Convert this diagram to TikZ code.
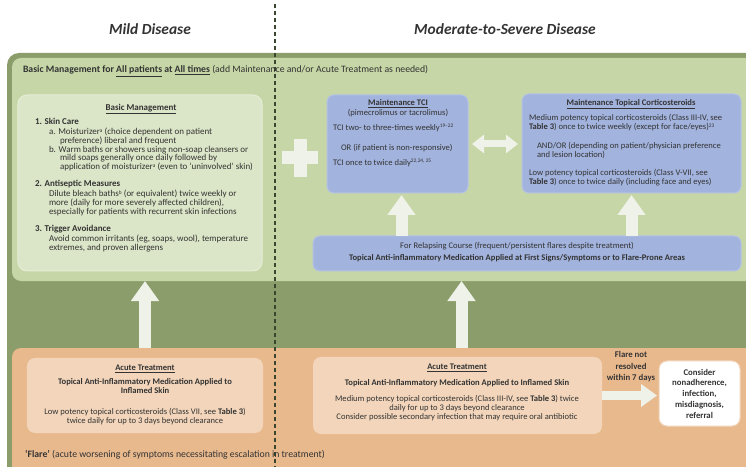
\documentclass[tikz,border=0pt]{standalone}
\usepackage{fontspec}
\setmainfont{Carlito}
\usetikzlibrary{calc}
\usetikzlibrary{arrows.meta}

\definecolor{framegreen}{HTML}{8B9D6B}
\definecolor{panelgreen}{HTML}{C6D6A6}
\definecolor{boxgreen}{HTML}{DBE5C7}
\definecolor{boxgreenline}{HTML}{E6EDD9}
\definecolor{boxblue}{HTML}{A2B3DD}
\definecolor{boxblueline}{HTML}{B4C2E5}
\definecolor{panelorange}{HTML}{E9B98E}
\definecolor{boxorange}{HTML}{F2D5BA}
\definecolor{arrowwhite}{HTML}{EFF2E8}
\definecolor{textgray}{HTML}{333333}
\definecolor{dashgray}{HTML}{3A4630}

\newcommand{\bodyfont}{\fontsize{9}{8.8}\selectfont\lineskiplimit=-20pt}
\newcommand{\boxfont}{\fontsize{8.6}{9.2}\selectfont\lineskiplimit=-20pt}
\newcommand{\headfont}{\fontsize{9.8}{11}\selectfont}
\newcommand{\titlefont}{\fontsize{15.5}{18}\selectfont\bfseries\itshape}
\newcommand{\sups}[1]{\smash{\raisebox{2.4bp}{\fontsize{5.4}{6}\selectfont #1}}}

\begin{document}
\begin{tikzpicture}[x=1bp, y=-1bp,
    every node/.style={inner sep=0pt, outer sep=0pt, text=textgray},
    panel/.style={rectangle, anchor=north west, rounded corners=9bp},
    greenbox/.style={rectangle, rounded corners=9bp, fill=boxgreen, draw=boxgreenline, line width=1bp},
    bluebox/.style={rectangle, rounded corners=7bp, fill=boxblue, draw=boxblueline, line width=1bp},
    orangebox/.style={rectangle, rounded corners=8bp, fill=boxorange},
    whitebox/.style={rectangle, rounded corners=8bp, fill=white, draw=boxorange, line width=1bp},
    uparrow/.style={draw=arrowwhite, line width=12bp, -{Triangle[length=20bp,width=27bp]}},
    sidearrow/.style={draw=arrowwhite, line width=9bp, -{Triangle[length=16bp,width=22bp]}},
    botharrow/.style={draw=arrowwhite, line width=7bp, {Triangle[length=12bp,width=18bp]}-{Triangle[length=12bp,width=18bp]}},
    divider/.style={draw=dashgray, line width=1.6bp, dash pattern=on 4bp off 3bp}]

    \clip (0,0) rectangle (746,467);

    % headings
    \node[font=\titlefont] at (150,29) (mild) {Mild Disease};
    \node[font=\titlefont] at (505,29) (modsev) {Moderate-to-Severe Disease};

    % background panels
    \node[panel, rounded corners=12bp, fill=framegreen, minimum width=790bp, minimum height=450bp] at (7,53) (frame) {};
    \node[panel, fill=panelgreen, minimum width=780bp, minimum height=223bp] at (12,58) (basicpanel) {};
    \node[panel, fill=panelorange, minimum width=780bp, minimum height=140bp] at (12,348) (flarepanel) {};

    \draw[divider] (275,4) -- (275,467);

    \node[font=\headfont, anchor=west] at (23,71) (allpatients) {\textbf{Basic Management for \underline{All patients} at \underline{All times}} (add Maintenance and/or Acute Treatment as needed)};

    % basic management
    \node[greenbox, minimum width=244bp, minimum height=176bp] at (140,183) (bm) {};
    \node[font=\bodyfont\bfseries] at (141,109) (bmtitle) {\underline{Basic Management}};
    \node[font=\bodyfont, align=left, anchor=north west] at (35,118.5) (skincare) {\textbf{1. Skin Care}\\[1bp]
        \hspace*{14bp}a. Moisturizer\sups{a} (choice dependent on patient\\
        \hspace*{25bp}preference) liberal and frequent\\
        \hspace*{14bp}b. Warm baths or showers using non-soap cleansers or\\
        \hspace*{25bp}mild soaps generally once daily followed by\\
        \hspace*{25bp}application of moisturizer\sups{a} (even to `uninvolved' skin)};
    \node[font=\bodyfont, align=left, anchor=north west] at (35,180.5) (antiseptic) {\textbf{2. Antiseptic Measures}\\[1bp]
        \hspace*{14bp}Dilute bleach baths\sups{b} (or equivalent) twice weekly or\\
        \hspace*{14bp}more (daily for more severely affected children),\\
        \hspace*{14bp}especially for patients with recurrent skin infections};
    \node[font=\bodyfont, align=left, anchor=north west] at (35,225.5) (trigger) {\textbf{3. Trigger Avoidance}\\[1bp]
        \hspace*{14bp}Avoid common irritants (eg, soaps, wool), temperature\\
        \hspace*{14bp}extremes, and proven allergens};

    % plus sign
    \coordinate (plus) at (300,158);
    \fill[arrowwhite] ($(plus)+(-18,-6.5)$) rectangle ($(plus)+(18,6.5)$);
    \fill[arrowwhite] ($(plus)+(-6.5,-19)$) rectangle ($(plus)+(6.5,19)$);

    % maintenance TCI
    \node[bluebox, minimum width=141bp, minimum height=98bp] at (397.5,144) (tci) {};
    \node[font=\boxfont\bfseries] at (398,104) (tcititle) {\underline{Maintenance TCI}};
    \node[font=\boxfont] at (398,113) (tcidrug) {(pimecrolimus or tacrolimus)};
    \node[font=\boxfont, anchor=west] at (333,128) (tciweekly) {TCI two- to three-times weekly\sups{19--22}};
    \node[font=\boxfont, anchor=west] at (341,148) (tcior) {OR (if patient is non-responsive)};
    \node[font=\boxfont, anchor=west] at (333,163) (tcidaily) {TCI once to twice daily\sups{22,24, 25}};

    % maintenance corticosteroids
    \node[bluebox, minimum width=219bp, minimum height=99bp] at (631.5,143.5) (cort) {};
    \node[font=\boxfont\bfseries] at (631,104) (corttitle) {\underline{Maintenance Topical Corticosteroids}};
    \node[font=\boxfont, align=left, anchor=north west] at (529,114.5) (cortmed) {Medium potency topical corticosteroids (Class III-IV, see\\
        \textbf{Table 3}) once to twice weekly (except for face/eyes)\sups{23}};
    \node[font=\boxfont, align=left, anchor=north west] at (537,142.5) (cortandor) {AND/OR (depending on patient/physician preference\\
        and lesion location)};
    \node[font=\boxfont, align=left, anchor=north west] at (529,169.5) (cortlow) {Low potency topical corticosteroids (Class V-VII, see\\
        \textbf{Table 3}) once to twice daily (including face and eyes)};

    % relapsing course
    \node[bluebox, minimum width=428bp, minimum height=35bp] at (527,253.5) (relapse) {};
    \node[font=\boxfont] at (517,246) (relapsecourse) {For Relapsing Course (frequent/persistent flares despite treatment)};
    \node[font=\boxfont\bfseries] at (517,258) (relapsemed) {Topical Anti-inflammatory Medication Applied at First Signs/Symptoms or to Flare-Prone Areas};

    % acute treatment, mild
    \node[orangebox, minimum width=236bp, minimum height=75bp] at (145,395.5) (acutemild) {};
    \node[font=\boxfont\bfseries] at (145,369) (acmtitle) {\underline{Acute Treatment}};
    \node[font=\boxfont\bfseries, align=center, anchor=north] at (145,378.5) (acmmed) {Topical Anti-Inflammatory Medication Applied to\\Inflamed Skin};
    \node[font=\boxfont, align=center, anchor=north] at (145,408) (acmlow) {Low potency topical corticosteroids (Class VII, see \textbf{Table 3})\\twice daily for up to 3 days beyond clearance};

    % acute treatment, moderate-to-severe
    \node[orangebox, minimum width=289bp, minimum height=77bp] at (457.5,395.5) (acutemod) {};
    \node[font=\boxfont\bfseries] at (457,368) (acdtitle) {\underline{Acute Treatment}};
    \node[font=\boxfont\bfseries] at (457,383) (acdmed) {Topical Anti-Inflammatory Medication Applied to Inflamed Skin};
    \node[font=\boxfont, align=center, anchor=north] at (457,395) (acdmedium) {Medium potency topical corticosteroids (Class III-IV, see \textbf{Table 3}) twice\\daily for up to 3 days beyond clearance};
    \node[font=\boxfont] at (457,417) (acdinfect) {Consider possible secondary infection that may require oral antibiotic};

    % not resolved
    \node[whitebox, minimum width=81bp, minimum height=65bp] at (699.5,393.5) (consider) {};
    \node[font=\fontsize{8.8}{10.8}\selectfont\bfseries, align=center] at (699.5,393.5) (considertext) {Consider\\nonadherence,\\infection,\\misdiagnosis,\\referral};
    \node[font=\fontsize{8.8}{11.5}\selectfont\bfseries, align=center, anchor=north] at (631,351.5) (flarenote) {Flare not\\resolved\\within 7 days};

    \node[font=\headfont, anchor=west] at (25,455) (flaredef) {\textbf{`Flare'} (acute worsening of symptoms necessitating escalation in treatment)};

    % arrows
    \draw[uparrow] (acutemild.north |- flarepanel.north) -- (acutemild.north |- basicpanel.south);
    \draw[uparrow] ([xshift=4bp]acutemod.north |- flarepanel.north) -- ([xshift=4bp]acutemod.north |- basicpanel.south);
    \draw[uparrow, shorten >=2bp] ([xshift=4bp]tci.south |- relapse.north) -- ([xshift=4bp]tci.south);
    \draw[uparrow, shorten >=2bp] (cort.south |- relapse.north) -- (cort.south);
    \draw[botharrow, shorten <=4bp, shorten >=4bp] (tci.east) -- (tci.east -| cort.west);
    \draw[sidearrow, shorten >=2bp] (acutemod.east) -- (acutemod.east -| consider.west);
\end{tikzpicture}
\end{document}
